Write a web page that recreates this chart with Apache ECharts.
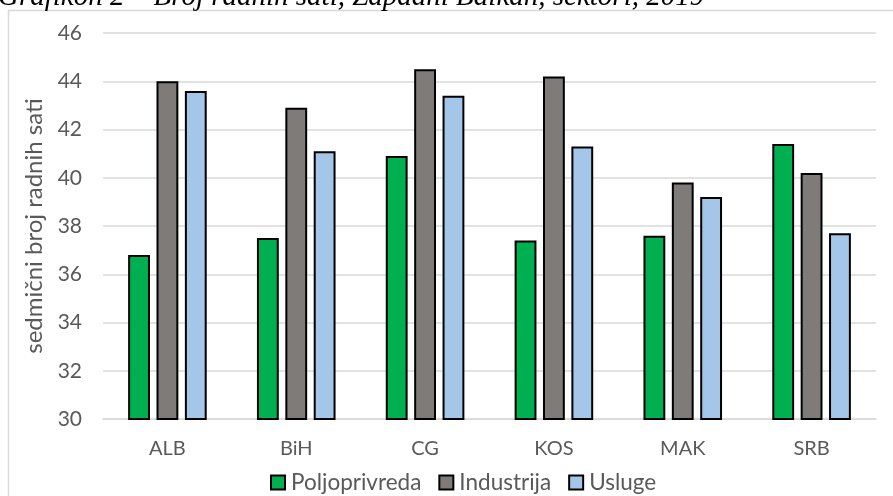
<!DOCTYPE html>
<html>
<head>
<meta charset="utf-8">
<script src="https://cdn.jsdelivr.net/npm/echarts@6/dist/echarts.min.js"></script>
<style>
html,body{margin:0;padding:0;background:#fff;}
#c{width:893px;height:496px;}
</style>
</head>
<body>
<div id="c"></div>
<script>
const titleText = 'Grafikon 2 – Broj radnih sati, Zapadni Balkan, sektori, 2019';
const yAxisName = 'sedmični broj radnih sati';
const categories = ['ALB', 'BiH', 'CG', 'KOS', 'MAK', 'SRB'];
const seriesNames = ['Poljoprivreda', 'Industrija', 'Usluge'];
const poljoprivreda = [36.8, 37.5, 40.9, 37.4, 37.6, 41.4];
const industrija = [44.0, 42.9, 44.5, 44.2, 39.8, 40.2];
const usluge = [43.6, 41.1, 43.4, 41.3, 39.2, 37.7];
const yTicks = { min: 30, max: 46, interval: 2 };

const colors = ['#00b050', '#7f7b79', '#a4c6e8'];
const font = 'Lato';
const values = [poljoprivreda, industrija, usluge];

const chart = echarts.init(document.getElementById('c'), null, { renderer: 'canvas' });
chart.setOption({
  animation: false,
  title: {
    text: titleText,
    left: -2,
    top: -17,
    padding: 0,
    textStyle: { fontFamily: 'Liberation Serif', fontStyle: 'italic', fontWeight: 'normal', fontSize: 29, color: '#000' }
  },
  graphic: [{
    type: 'rect',
    shape: { x: 8.5, y: 10.5, width: 900, height: 500 },
    style: { fill: '#fff', stroke: '#d9d9d9', lineWidth: 1.5 },
    z: -1
  }],
  grid: { left: 103, right: 17, top: 33, bottom: 77, containLabel: false },
  legend: {
    data: seriesNames,
    top: 471,
    left: 270,
    padding: 0,
    itemWidth: 14,
    itemHeight: 14,
    itemGap: 17,
    icon: 'rect',
    textStyle: { fontFamily: font, fontSize: 22.5, color: '#595959', padding: [0, 0, 0, 1] }
  },
  xAxis: {
    type: 'category',
    data: categories,
    axisLine: { show: true, lineStyle: { color: '#d9d9d9', width: 1.5 } },
    axisTick: { show: false },
    axisLabel: { fontFamily: font, fontSize: 20, color: '#595959', margin: 20 }
  },
  yAxis: {
    type: 'value',
    min: yTicks.min,
    max: yTicks.max,
    interval: yTicks.interval,
    name: yAxisName,
    nameLocation: 'middle',
    nameGap: 55,
    nameTextStyle: { fontFamily: font, fontSize: 24, color: '#595959' },
    axisLine: { show: false },
    axisTick: { show: false },
    splitLine: { lineStyle: { color: '#d9d9d9', width: 1.5 } },
    axisLabel: { fontFamily: font, fontSize: 21, color: '#595959', margin: 21 }
  },
  series: seriesNames.map((name, i) => ({
    name: name,
    type: 'bar',
    data: values[i],
    barGap: '30%',
    barCategoryGap: '39%',
    itemStyle: { color: colors[i], borderColor: '#000', borderWidth: 2 }
  }))
});
</script>
</body>
</html>
